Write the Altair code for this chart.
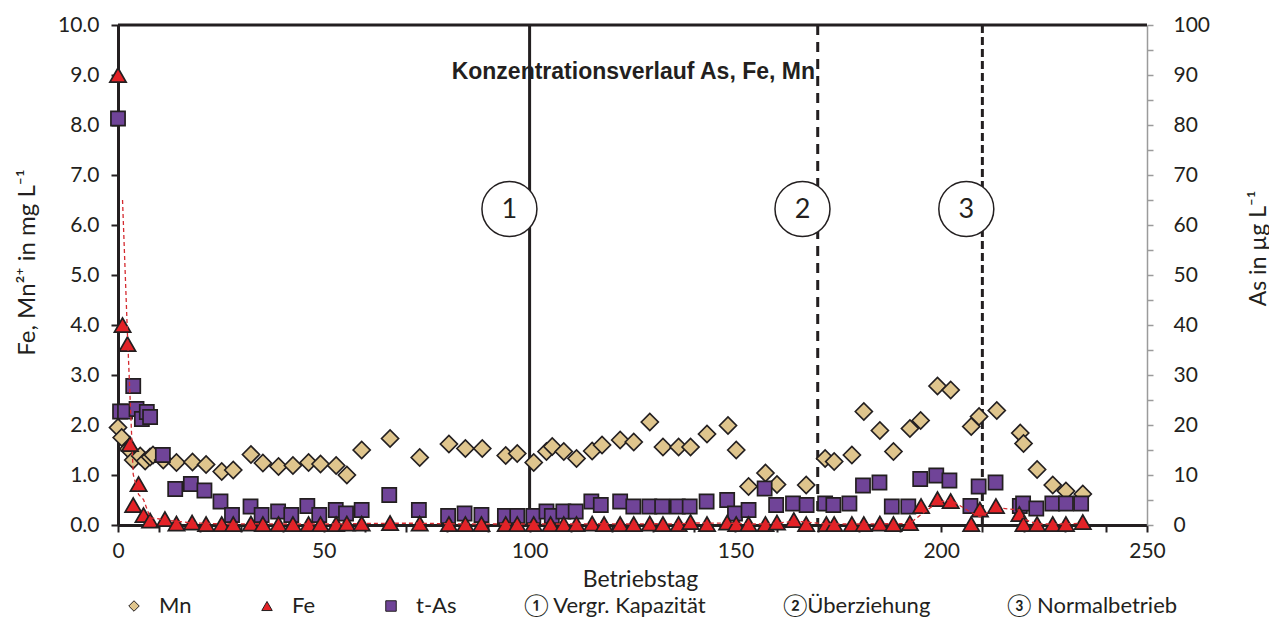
import altair as alt
import pandas as pd

# ---------------- data ----------------
mn_day = [0, 0.9, 2.5, 3.7, 5.4, 6.6, 7.8, 8.5, 11, 14.2, 18.1, 21.4, 25.2, 28, 32.3, 35.2, 39, 42.5,
          46.3, 49.2, 53, 55.6, 59.2, 66.1, 73.3, 80.4, 84.4, 88.5, 94.2, 97, 101, 104.1, 105.5, 108.3,
          111.4, 115.2, 117.6, 122, 125.3, 129.2, 132.4, 136.2, 139.1, 143.1, 148.2, 150.2, 153.2,
          157.3, 160.1, 167.2, 171.8, 174, 178.3, 181.2, 185.1, 188.4, 192.4, 195, 199.1, 202.3,
          207.3, 209.2, 213.5, 219.2, 220, 223.3, 227.1, 230.3, 234.4]
mn_val = [1.95, 1.75, 1.52, 1.30, 1.38, 1.28, 1.36, 1.40, 1.30, 1.25, 1.26, 1.21, 1.07, 1.10, 1.41, 1.24,
          1.17, 1.19, 1.25, 1.22, 1.19, 1.00, 1.50, 1.73, 1.35, 1.62, 1.53, 1.53, 1.39, 1.43, 1.25, 1.47,
          1.57, 1.47, 1.33, 1.48, 1.60, 1.70, 1.66, 2.06, 1.56, 1.56, 1.56, 1.82, 1.99, 1.50, 0.77,
          1.04, 0.81, 0.80, 1.33, 1.27, 1.40, 2.27, 1.89, 1.47, 1.93, 2.09, 2.78, 2.70,
          1.97, 2.17, 2.29, 1.84, 1.63, 1.11, 0.80, 0.68, 0.62]

fe_day = [0, 1.1, 2.3, 2.9, 3.7, 5.0, 6.2, 7.8, 11.4, 14.2, 18, 21.4, 25.2, 28, 32.3, 35.2, 39, 42.5,
          46.3, 49.2, 53, 55.6, 59.2, 66.1, 73.3, 80.4, 84.4, 88.3, 94.2, 97, 101, 105.1, 108.3, 111.4,
          115.2, 118.1, 122, 125.3, 129.2, 132.4, 136.2, 139.1, 143.1, 148, 150.2, 153.2, 157.3,
          160.1, 164.2, 167.2, 172.1, 174, 178.3, 181.2, 185.1, 188.4, 192.4, 195.1, 199.1, 202.3,
          207.3, 209.4, 213.3, 219, 220, 223.3, 227.1, 230.3, 234.4]
fe_val = [9.0, 4.0, 3.62, 1.62, 0.40, 0.82, 0.20, 0.09, 0.12, 0.03, 0.05, 0.02, 0.02, 0.02, 0.03, 0.02,
          0.02, 0.02, 0.02, 0.02, 0.02, 0.03, 0.03, 0.04, 0.03, 0.02, 0.02, 0.02, 0.02, 0.02, 0.02,
          0.02, 0.02, 0.02, 0.03, 0.02, 0.02, 0.02, 0.03, 0.02, 0.02, 0.06, 0.02, 0.05, 0.02, 0.02,
          0.02, 0.05, 0.10, 0.02, 0.02, 0.02, 0.02, 0.02, 0.03, 0.02, 0.04, 0.38, 0.52, 0.48,
          0.02, 0.31, 0.38, 0.22, 0.02, 0.02, 0.02, 0.02, 0.06]

as_day = [0, 0.5, 1.7, 3.7, 4.5, 5.8, 7, 7.8, 10.9, 13.9, 17.7, 21, 24.9, 27.7, 32.2, 34.9, 38.9, 42.1,
          46, 48.9, 52.9, 55.4, 59.2, 65.9, 73.1, 80.2, 84.2, 88.3, 94, 97, 100.9, 104.1, 105.4, 108.2,
          111.2, 115, 117.3, 122, 125.2, 129.1, 132.2, 136, 138.9, 143, 148, 149.9, 153.2, 157.1,
          159.9, 164, 167.3, 171.8, 173.8, 177.7, 181, 185, 188, 192, 194.9, 198.8, 202, 207.1,
          209.1, 213.2, 219.1, 219.9, 223.1, 227, 230.3, 234]
as_val = [81.3, 22.7, 22.7, 27.8, 23.2, 21.2, 22.6, 21.6, 14.0, 7.2, 8.2, 6.9, 4.7, 2.0, 3.7, 2.0, 2.7,
          2.0, 3.8, 2.0, 3.0, 2.3, 3.0, 6.0, 3.0, 1.8, 2.3, 2.0, 1.8, 1.8, 1.8, 2.7, 1.8, 2.7,
          2.7, 4.7, 4.0, 4.7, 3.7, 3.7, 3.7, 3.7, 3.7, 4.7, 5.0, 2.3, 3.0, 7.3,
          4.0, 4.3, 4.0, 4.3, 4.0, 4.3, 7.9, 8.5, 3.7, 3.7, 9.2, 9.9, 8.9, 3.8,
          7.7, 8.5, 3.8, 4.3, 3.3, 4.3, 4.3, 4.3]

series_names = ["Mn", "Fe", "t-As"]
series_fill = ["#DFC58D", "#E42227", "#704498"]
series_shape = ["diamond", "triangle-up", "square"]

phase_day = [100, 170, 210]
phase_names = ["\u2460 Vergr. Kapazit\u00e4t", "\u2461\u00dcberziehung", "\u2462 Normalbetrieb"]
phase_dash = [[1, 0], [10, 7], [8, 4]]

marker_day = [95.1, 166.3, 206.1]
marker_y = [6.32, 6.32, 6.32]
marker_label = ["1", "2", "3"]

title_text = ["Konzentrationsverlauf As, Fe, Mn"]
title_day = [125.2]
title_y = [9.07]

INK = "#231F20"

# ---------------- tables ----------------
rows = ([{"series": "Mn", "day": d, "value": v} for d, v in zip(mn_day, mn_val)] +
        [{"series": "t-As", "day": d, "value": v} for d, v in zip(as_day, as_val)] +
        [{"series": "Fe", "day": d, "value": v} for d, v in zip(fe_day, fe_val)])
df = pd.DataFrame(rows)
fe_df = pd.DataFrame({"day": fe_day, "value": fe_val})
phase_df = pd.DataFrame({"day": phase_day, "kind": phase_names})
marker_df = pd.DataFrame({"day": marker_day, "y": marker_y, "label": marker_label})
title_df = pd.DataFrame({"day": title_day, "y": title_y, "t": title_text})

xscale = alt.Scale(domain=[0, 250], nice=False, zero=False)
yscale = alt.Scale(domain=[0, 10], nice=False)

xaxis = alt.Axis(values=list(range(0, 251, 10)), format="d",
                 labelExpr="datum.value % 50 === 0 ? datum.label : ''",
                 title="Betriebstag", grid=False, labelOverlap=False, labelFlush=False,
                 domainColor=INK, domainWidth=3, tickColor=INK, tickWidth=2, tickSize=7,
                 labelFont="Lato", labelFontSize=21, labelColor=INK, labelPadding=8,
                 titleFont="Lato", titleFontSize=23, titleFontWeight="normal", titleColor=INK,
                 titleX=522, titleY=54, titleBaseline="middle")

yaxis = alt.Axis(values=[i * 0.5 for i in range(21)], format=".1f",
                 labelExpr="datum.value % 1 === 0 ? datum.label : ''",
                 title="Fe, Mn\u00b2\u207a in mg L\u207b\u00b9", grid=False, labelOverlap=False,
                 labelFlush=False, domainColor=INK, domainWidth=3, tickColor=INK, tickWidth=2,
                 tickSize={"condition": {"test": "datum.value % 1 === 0", "value": 7}, "value": 4},
                 labelFont="Lato", labelFontSize=21, labelColor=INK, labelPadding=12,
                 titleFont="Lato", titleFontSize=24, titleFontWeight="normal", titleColor=INK,
                 titleAngle=270, titleX=-91, titleY=237, titleBaseline="middle")

legend = alt.Legend(orient="none", legendX=5, legendY=570, direction="horizontal", title=None,
                    columnPadding=64, symbolSize=110, symbolStrokeColor=INK, symbolStrokeWidth=1,
                    labelFont="Lato", labelFontSize=22, labelColor=INK, labelLimit=400,
                    labelOffset=14)

phase_legend = alt.Legend(orient="none", legendX=384, legendY=570, direction="horizontal",
                          title=None, columnPadding=54, symbolSize=1, symbolOpacity=0,
                          symbolStrokeWidth=0, labelFont="Lato", labelFontSize=22,
                          labelColor=INK, labelLimit=400, labelOffset=0)

top_rule = alt.Chart(alt.Data(values=[{}])).mark_rule(color=INK, strokeWidth=3).encode(
    x=alt.datum(0, scale=xscale), x2=alt.datum(250), y=alt.datum(10, scale=yscale))

phase_rules = alt.Chart(phase_df).mark_rule(color=INK, strokeWidth=3).encode(
    x=alt.X("day:Q", scale=xscale),
    strokeDash=alt.StrokeDash("kind:N", scale=alt.Scale(domain=phase_names, range=phase_dash),
                              legend=phase_legend))

circles = alt.Chart(marker_df).mark_point(shape="circle", size=3025, filled=True, fill="white",
                                          stroke=INK, strokeWidth=1.5, opacity=1).encode(
    x=alt.X("day:Q", scale=xscale), y=alt.Y("y:Q", scale=yscale))

circle_text = alt.Chart(marker_df).mark_text(font="Lato", fontSize=27, color=INK,
                                             baseline="middle", align="center", dy=1).encode(
    x=alt.X("day:Q", scale=xscale), y=alt.Y("y:Q", scale=yscale), text="label:N")

title_mark = alt.Chart(title_df).mark_text(font="Liberation Sans", fontWeight="bold", fontSize=23,
                                           color=INK, baseline="middle", align="center").encode(
    x=alt.X("day:Q", scale=xscale), y=alt.Y("y:Q", scale=yscale), text="t:N")

points = alt.Chart(df).transform_calculate(
    y_left="datum.series === 't-As' ? datum.value / 10 : datum.value",
    sz="datum.series === 'Mn' ? 290 : (datum.series === 'Fe' ? 265 : 200)"
).mark_point(filled=True, strokeWidth=1.7, opacity=1).encode(
    x=alt.X("day:Q", scale=xscale, axis=xaxis),
    y=alt.Y("y_left:Q", scale=yscale, axis=yaxis),
    fill=alt.Fill("series:N", scale=alt.Scale(domain=series_names, range=series_fill), legend=legend),
    shape=alt.Shape("series:N", scale=alt.Scale(domain=series_names, range=series_shape),
                    legend=legend),
    stroke=alt.Stroke("series:N", scale=alt.Scale(domain=series_names, range=[INK, INK, INK]),
                      legend=legend),
    size=alt.Size("sz:Q", scale=None),
)

trend = alt.Chart(fe_df).transform_window(
    ma="mean(value)", frame=[-1, 0], sort=[alt.SortField("day")]
).transform_window(
    rn="row_number()", sort=[alt.SortField("day")]
).transform_filter("datum.rn > 1").mark_line(
    color="#D42A2F", strokeWidth=1.3, strokeDash=[4, 3]).encode(
    x=alt.X("day:Q", scale=xscale), y=alt.Y("ma:Q", scale=yscale), order="day:Q")

left = alt.layer(top_rule, phase_rules, circles, circle_text, title_mark, points, trend)

right = alt.Chart(pd.DataFrame({"as_axis": [0, 100]})).mark_point(opacity=0).encode(
    y=alt.Y("as_axis:Q", scale=alt.Scale(domain=[0, 100], nice=False),
            axis=alt.Axis(orient="right", values=list(range(0, 101, 5)),
                          labelExpr="datum.value % 10 === 0 ? datum.label : ''",
                          title="As in \u00b5g L\u207b\u00b9", grid=False, labelOverlap=False,
                          labelFlush=False, domainColor="#9B9B9B", domainWidth=1.5,
                          tickColor="#9B9B9B", tickWidth=1.5, tickSize=6,
                          labelFont="Lato", labelFontSize=21, labelColor=INK, labelPadding=20,
                          titleFont="Lato", titleFontSize=23, titleFontWeight="normal",
                          titleColor=INK, titleAngle=270, titleX=111, titleY=223,
                          titleBaseline="middle")))

chart = alt.layer(left, right).resolve_scale(y="independent").properties(
    width=1029, height=500,
    padding={"left": 110, "top": 17, "right": 122, "bottom": 92},
    autosize=alt.AutoSizeParams(type="none"),
).configure_view(stroke=None).configure(background="white")

chart.save("out.html", embed_options={"renderer": "svg", "actions": False})
